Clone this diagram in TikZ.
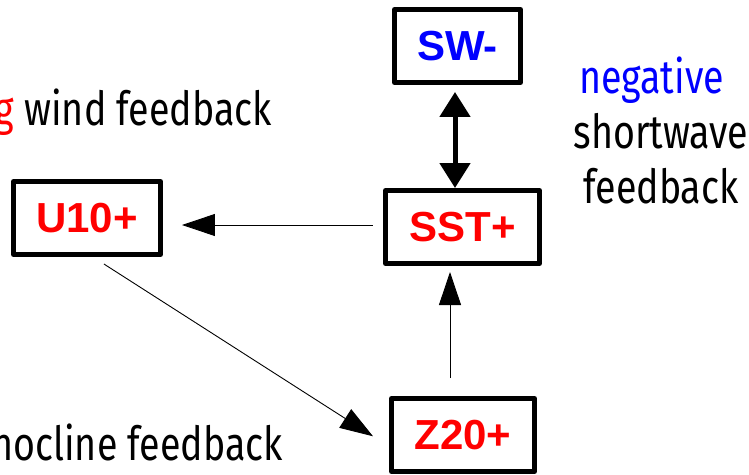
\documentclass[tikz,border=0pt]{standalone}
\usepackage{fontspec}
\setmainfont{Fira Sans}[FakeStretch=0.8]
\newfontfamily\varfont{Liberation Sans}
\usetikzlibrary{positioning,arrows.meta}

\tikzset{
  var/.style={draw, line width=5pt, line join=round, inner sep=0pt,
    minimum width=#1, minimum height=73pt,
    font=\varfont\bfseries\fontsize{42}{42}\selectfont},
  note/.style={inner sep=0pt, font=\fontsize{47}{55}\selectfont},
  link/.style={line width=0.9pt, -{Triangle[length=33pt,width=22pt]}},
  twoway/.style={line width=5pt, {Triangle[length=25pt,width=30pt]}-{Triangle[length=25pt,width=30pt]}}
}

\begin{document}
\begin{tikzpicture}

  \useasboundingbox (-462.5pt,227pt) rectangle (286.5pt,-247pt);

  % Define nodes
  \node[var=154pt, text=red]                                     (sst) {SST+};
  \node[var=126pt, text=blue, above=103pt of sst, xshift=-5pt]   (sw)  {SW-};
  \node[var=147pt, text=red, left=220pt of sst, yshift=9pt]      (u10) {U10+};
  \node[var=143pt, text=red, below=130pt of sst, xshift=0.5pt]   (z20) {Z20+};

  % Feedback labels
  \node[note, anchor=base east] (wind) at (-190.5pt,102pt) {\textcolor{red}{g} wind feedback};
  \node[note, anchor=base east] (thermo) at (-179.5pt,-233pt) {nocline feedback};
  \node[note, anchor=base, align=center] (swfb) at (198.5pt,24pt)
    {\textcolor{blue}{negative}\hspace*{19pt}\\shortwave\\feedback};

  % Connect the nodes
  \draw[twoway, shorten >=7pt] ([xshift=-7.5pt]sst.north) -- ([xshift=-7.5pt]sst.north |- sw.south);
  \draw[link, shorten <=10pt, shorten >=19pt] ([yshift=2pt]sst.west) -- ([yshift=2pt]u10.east |- sst.west);
  \draw[link, shorten <=13pt, shorten >=19pt] ([xshift=6pt]u10.south) -- ([yshift=-11.5pt]z20.west);
  \draw[link, shorten <=18pt, shorten >=6pt] ([xshift=-12.5pt]sst.south |- z20.north) -- ([xshift=-12.5pt]sst.south);

\end{tikzpicture}
\end{document}
